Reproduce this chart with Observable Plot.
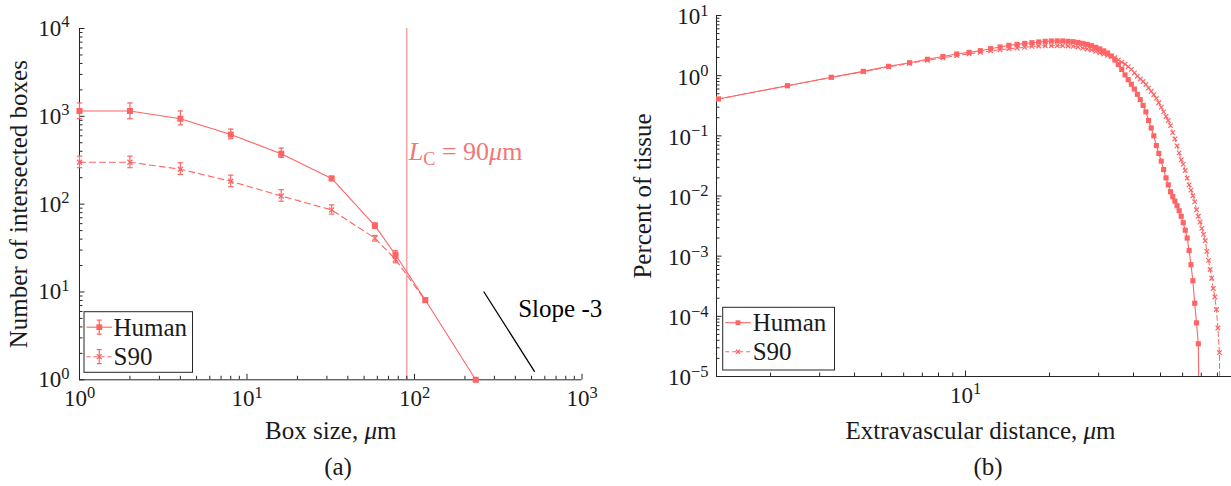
<!DOCTYPE html>
<html>
<head>
<meta charset="utf-8">
<script src="https://cdn.jsdelivr.net/npm/d3@7"></script>
<script src="https://cdn.jsdelivr.net/npm/@observablehq/plot@0.6"></script>
<style>
html, body { margin: 0; padding: 0; background: #fff; overflow: hidden; width: 1231px; height: 486px; }
#wrap { position: relative; width: 1231px; height: 486px; overflow: hidden; font-family: "Liberation Serif", "Times New Roman", serif; color: #1a1a1a; }
#wrap svg { position: absolute; top: 0; }
#wrap svg text { font-family: "Liberation Serif", "Times New Roman", serif; }
.cap { position: absolute; font-size: 25px; transform: translate(-50%, -50%); white-space: nowrap; }
</style>
</head>
<body>
<div id="wrap"></div>
<script>
// ---------------- DATA: panel (a) box counting ----------------
const seriesNames = ["Human", "S90"];
const boxSize = [1, 2, 4, 8, 16, 32, 58, 77, 116, 232];
const humanBoxes = [1150, 1150, 940, 620, 375, 196, 57, 26.5, 8.1, 1];
const humanBoxesLow = [940, 940, 800, 555, 340, 186, 53, 24, 7.8, 1];
const humanBoxesHigh = [1420, 1420, 1150, 715, 435, 208, 61, 29.5, 8.4, 1];
const s90BoxSize = [1, 2, 4, 8, 16, 32, 58, 77, 116];
const s90Boxes = [300, 300, 250, 182, 124, 86, 41, 23.5, 8];
const s90BoxesLow = [260, 260, 218, 158, 108, 77, 38, 21.5, 7.7];
const s90BoxesHigh = [352, 352, 296, 214, 146, 98, 44, 26, 8.3];
const critLength = 90;
const critLabel = "L_C = 90μm";
const critLabelY = 400;
const slopeX = [260, 520];
const slopeY = [10, 1.25];
const slopeLabel = "Slope -3";
const slopeLabelX = 416;
const slopeLabelY = 6.4;
const boxTicks = [1, 10, 100, 1000];
const boxTickLabels = ["10^0", "10^1", "10^2", "10^3"];
const countTicks = [1, 10, 100, 1000, 10000];
const countTickLabels = ["10^0", "10^1", "10^2", "10^3", "10^4"];
const xLabelA = "Box size, μm";
const yLabelA = "Number of intersected boxes";

// ---------------- DATA: panel (b) extravascular distance ----------------
const distance = [1.3, 2.3, 3.3, 4.3, 5.3, 6.3, 7.3, 8.3, 9.3, 10.3,
  11.3, 12.3, 13.3, 14.3, 15.3, 16.3, 17.3, 18.3, 19.3, 20.3,
  21.3, 22.3, 23.3, 24.3, 25.3, 26.3, 27.3, 28.3, 29.3, 30.3,
  31.3, 32.3, 33.3, 34.3, 35.3, 36.3, 37.3, 38.3, 39.3, 40.3,
  41.3, 42.3, 43.3, 44.3, 45.3, 46.3, 47.3, 48.3, 49.3, 50.3,
  51.3, 52.3, 53.3, 54.3, 55.3, 56.3, 57.3, 58.3, 59.3, 60.3,
  61.3, 62.3, 63.3, 64.3, 65.3, 66.3, 67.3, 68.3, 69.3, 70.3,
  71.3, 72.3, 73.3, 74.3, 75.3, 76.3, 77.3, 78.3, 79.3, 80.3,
  81.3, 82.3];
const humanPct = [0.41, 0.68, 0.94, 1.18, 1.43, 1.64, 1.87, 2.08, 2.29, 2.44,
  2.60, 2.81, 3.00, 3.19, 3.31, 3.44, 3.53, 3.63, 3.72, 3.77,
  3.78, 3.77, 3.72, 3.67, 3.57, 3.44, 3.31, 3.15, 2.95, 2.78,
  2.58, 2.38, 2.12, 1.82, 1.53, 1.27, 1.03, 0.86, 0.72, 0.60,
  0.49, 0.40, 0.32, 0.25, 0.18, 0.135, 0.10, 0.069, 0.051, 0.038,
  0.0275, 0.020, 0.0153, 0.0118, 0.0098, 0.0082, 0.0069, 0.0057, 0.0046, 0.0036,
  0.0027, 0.0020, 0.00124, 0.00072, 0.00039, 0.000165, 0.000078, 0.000035, 0.0000001];
const s90Pct = [0.41, 0.68, 0.93, 1.16, 1.40, 1.60, 1.80, 1.98, 2.15, 2.30,
  2.44, 2.58, 2.70, 2.80, 2.88, 2.95, 3.07, 3.11, 3.15, 3.15,
  3.15, 3.15, 3.11, 3.07, 3.00, 2.88, 2.78, 2.67, 2.53, 2.40,
  2.29, 2.18, 2.10, 2.00, 1.83, 1.68, 1.55, 1.41, 1.27, 1.11,
  0.98, 0.88, 0.80, 0.715, 0.625, 0.55, 0.483, 0.42, 0.355, 0.30,
  0.25, 0.21, 0.18, 0.148, 0.113, 0.089, 0.068, 0.052, 0.040, 0.0335,
  0.0265, 0.0198, 0.0153, 0.0125, 0.0101, 0.0080, 0.0059, 0.0046, 0.0037, 0.0029,
  0.0023, 0.0018, 0.0012, 0.00085, 0.0006, 0.00043, 0.00029, 0.00021, 0.00013, 0.000064,
  0.000025, 0.00000001];
const distTicks = [10];
const distTickLabels = ["10^1"];
const pctTicks = [1e-5, 1e-4, 1e-3, 1e-2, 1e-1, 1, 10];
const pctTickLabels = ["10^−5", "10^−4", "10^−3", "10^−2", "10^−1", "10^0", "10^1"];
const xLabelB = "Extravascular distance, μm";
const yLabelB = "Percent of tissue";
const distDomain = [1.28, 100];
const pctDomain = [1e-5, 10];

// ---------------- STYLE ----------------
const H = 486;
const seriesColor = "#ff6464";
const lcColor = "#f27878";
const axisColor = "#262626";
const textColor = "#1a1a1a";
const fontFamily = "'Liberation Serif', 'Times New Roman', serif";
const tickFont = 23, labelFont = 25;

function logTicks(lo, hi) {
  const major = [], minor = [];
  for (let e = Math.floor(Math.log10(lo)) - 1; e <= Math.ceil(Math.log10(hi)); e++) {
    for (let m = 1; m < 10; m++) {
      const v = +(m * Math.pow(10, e)).toPrecision(6);
      if (v < lo * 0.9999 || v > hi * 1.0001) continue;
      (m === 1 ? major : minor).push(v);
    }
  }
  return {major, minor};
}
const capSymbol = {draw(ctx, size) { const r = Math.sqrt(size / Math.PI); ctx.moveTo(-r, 0); ctx.lineTo(r, 0); }};

function richText(svg) {
  d3.select(svg).selectAll("text").each(function() {
    const t = this.textContent;
    const sel = d3.select(this);
    sel.style("font-family", fontFamily);
    let m = t.match(/^10\^(.+)$/);
    if (m) {
      this.textContent = "10";
      sel.append("tspan").attr("dy", -8.5).attr("font-size", 16.5).text(m[1]);
      return;
    }
    if (t === critLabel) {
      this.textContent = "";
      sel.append("tspan").attr("font-style", "italic").text("L");
      sel.append("tspan").attr("font-size", "0.7em").attr("dy", 5).text("C");
      sel.append("tspan").attr("dy", -5).text(" = 90");
      sel.append("tspan").attr("font-style", "italic").text("μ");
      sel.append("tspan").text("m");
      return;
    }
    if (t.includes("μ")) {
      const parts = t.split("μ");
      this.textContent = parts[0];
      sel.append("tspan").attr("font-style", "italic").text("μ");
      sel.append("tspan").text(parts[1]);
    }
  });
}

function drawLegend(svg, box, opts) {
  const g = d3.select(svg).append("g");
  g.append("rect").attr("x", box.x).attr("y", box.y).attr("width", box.w).attr("height", box.h)
    .attr("fill", "#fff").attr("stroke", axisColor).attr("stroke-width", 1);
  seriesNames.forEach((name, i) => {
    const cy = box.y + opts.first + i * opts.step;
    const x1 = box.x + opts.l1, x2 = box.x + opts.l2, mx = (x1 + x2) / 2;
    g.append("line").attr("x1", x1).attr("x2", x2).attr("y1", cy).attr("y2", cy)
      .attr("stroke", seriesColor).attr("stroke-width", 1.1)
      .attr("stroke-dasharray", i === 1 ? opts.dash : null);
    if (opts.err) {
      const e = opts.err;
      g.append("path").attr("d", `M${mx},${cy - e}V${cy + e}M${mx - 2.5},${cy - e}H${mx + 2.5}M${mx - 2.5},${cy + e}H${mx + 2.5}`)
        .attr("stroke", seriesColor).attr("stroke-width", 1.2).attr("fill", "none");
    }
    if (i === 0) {
      const s = opts.sq;
      g.append("rect").attr("x", mx - s / 2).attr("y", cy - s / 2).attr("width", s).attr("height", s).attr("fill", seriesColor);
    } else {
      const r = opts.xr;
      g.append("path").attr("d", `M${mx - r},${cy - r}L${mx + r},${cy + r}M${mx - r},${cy + r}L${mx + r},${cy - r}`)
        .attr("stroke", seriesColor).attr("stroke-width", 1.3);
    }
    g.append("text").attr("x", box.x + opts.tx).attr("y", cy).attr("dy", "0.34em")
      .attr("text-anchor", "start")
      .attr("font-size", labelFont).attr("fill", textColor).style("font-family", fontFamily).text(name);
  });
}

const wrap = document.getElementById("wrap");

// ---------------- PANEL (a) ----------------
{
  const f = {left: 79, right: 581.5, top: 28, bottom: 379.3};
  const width = 615;
  const fw = f.right - f.left, fh = f.bottom - f.top;
  const tx = logTicks(1, 1000), ty = logTicks(1, 10000);
  const human = boxSize.map((x, i) => ({x, y: humanBoxes[i], lo: humanBoxesLow[i], hi: humanBoxesHigh[i]}));
  const s90 = s90BoxSize.map((x, i) => ({x, y: s90Boxes[i], lo: s90BoxesLow[i], hi: s90BoxesHigh[i]}));
  const slope = slopeX.map((x, i) => ({x, y: slopeY[i]}));
  const svg = Plot.plot({
    width, height: H,
    marginLeft: f.left, marginRight: width - f.right, marginTop: f.top, marginBottom: H - f.bottom,
    x: {type: "log", domain: [1, 1000], axis: null},
    y: {type: "log", domain: [1, 10000], axis: null},
    style: {background: "transparent", fontFamily, fontSize: tickFont + "px", color: textColor, overflow: "visible"},
    marks: [
      Plot.ruleX([critLength], {x: d => d, stroke: lcColor, strokeWidth: 1}),
      Plot.tickX(tx.major, {x: d => d, insetTop: fh - 5.5, stroke: axisColor}),
      Plot.tickX(tx.minor, {x: d => d, insetTop: fh - 3.5, stroke: axisColor}),
      Plot.tickY(ty.major, {y: d => d, insetRight: fw - 5.5, stroke: axisColor}),
      Plot.tickY(ty.minor, {y: d => d, insetRight: fw - 3.5, stroke: axisColor}),
      Plot.ruleX([1], {x: d => d, stroke: axisColor, strokeWidth: 1}),
      Plot.ruleY([1], {y: d => d, stroke: axisColor, strokeWidth: 1}),
      Plot.line(s90, {x: "x", y: "y", stroke: seriesColor, strokeWidth: 1.1, strokeDasharray: "6,4"}),
      Plot.line(human, {x: "x", y: "y", stroke: seriesColor, strokeWidth: 1.1}),
      Plot.ruleX(human, {x: "x", y1: "lo", y2: "hi", stroke: seriesColor, strokeWidth: 1.2}),
      Plot.dot(human, {x: "x", y: "lo", symbol: capSymbol, r: 2.7, stroke: seriesColor, fill: "none", strokeWidth: 1.2}),
      Plot.dot(human, {x: "x", y: "hi", symbol: capSymbol, r: 2.7, stroke: seriesColor, fill: "none", strokeWidth: 1.2}),
      Plot.ruleX(s90, {x: "x", y1: "lo", y2: "hi", stroke: seriesColor, strokeWidth: 1.2}),
      Plot.dot(s90, {x: "x", y: "lo", symbol: capSymbol, r: 2.7, stroke: seriesColor, fill: "none", strokeWidth: 1.2}),
      Plot.dot(s90, {x: "x", y: "hi", symbol: capSymbol, r: 2.7, stroke: seriesColor, fill: "none", strokeWidth: 1.2}),
      Plot.dot(human, {x: "x", y: "y", symbol: "square", r: 3.4, fill: seriesColor, stroke: "none"}),
      Plot.dot(s90, {x: "x", y: "y", symbol: "times", r: 2.4, stroke: seriesColor, strokeWidth: 1.3}),
      Plot.line(slope, {x: "x", y: "y", stroke: "#000", strokeWidth: 1.3}),
      Plot.text([slopeLabel], {x: () => slopeLabelX, y: () => slopeLabelY, text: d => d, textAnchor: "start", lineAnchor: "middle", fontSize: labelFont, fill: "#000"}),
      Plot.text([critLabel], {x: () => critLength, y: () => critLabelY, text: d => d, textAnchor: "start", lineAnchor: "middle", dx: 2, fontSize: labelFont + 1, fill: lcColor}),
      Plot.text(boxTicks, {x: d => d, text: (d, i) => boxTickLabels[i], frameAnchor: "bottom", textAnchor: "middle", lineAnchor: "middle", dy: 19, fontSize: tickFont, fill: textColor}),
      Plot.text(countTicks, {y: d => d, text: (d, i) => countTickLabels[i], frameAnchor: "left", textAnchor: "end", lineAnchor: "middle", dx: -10, dy: 0, fontSize: tickFont, fill: textColor}),
      Plot.text([xLabelA], {text: d => d, frameAnchor: "bottom", textAnchor: "middle", lineAnchor: "middle", dy: 51, fontSize: labelFont, fill: textColor}),
      Plot.text([yLabelA], {text: d => d, frameAnchor: "left", textAnchor: "middle", lineAnchor: "middle", dx: -61, rotate: -90, fontSize: labelFont, fill: textColor})
    ]
  });
  svg.style.left = "0px";
  richText(svg);
  drawLegend(svg, {x: 84, y: 311.7, w: 108.5, h: 60.6}, {first: 15.5, step: 29.5, l1: 2.5, l2: 28, tx: 29.5, dash: "4,3", err: 7, sq: 5.8, xr: 2.4});
  wrap.appendChild(svg);
  const cap = document.createElement("div");
  cap.className = "cap"; cap.style.left = "338px"; cap.style.top = "467px"; cap.textContent = "(a)";
  wrap.appendChild(cap);
}

// ---------------- PANEL (b) ----------------
{
  const offset = 620;
  const f = {left: 716, right: 1244, top: 15, bottom: 376};
  const width = f.right - offset;
  const fw = f.right - f.left, fh = f.bottom - f.top;
  const tx = logTicks(distDomain[0], distDomain[1]), ty = logTicks(pctDomain[0], pctDomain[1]);
  const human = humanPct.map((v, i) => ({x: distance[i], y: v}));
  const s90 = s90Pct.map((v, i) => ({x: distance[i], y: v}));
  const svg = Plot.plot({
    width, height: H,
    marginLeft: f.left - offset, marginRight: 0, marginTop: f.top, marginBottom: H - f.bottom,
    x: {type: "log", domain: distDomain, axis: null},
    y: {type: "log", domain: pctDomain, axis: null},
    style: {background: "transparent", fontFamily, fontSize: tickFont + "px", color: textColor, overflow: "visible"},
    marks: [
      Plot.tickX(tx.major, {x: d => d, insetTop: fh - 5.5, stroke: axisColor}),
      Plot.tickX(tx.minor, {x: d => d, insetTop: fh - 3.5, stroke: axisColor}),
      Plot.tickY(ty.major, {y: d => d, insetRight: fw - 5.5, stroke: axisColor}),
      Plot.tickY(ty.minor, {y: d => d, insetRight: fw - 3.5, stroke: axisColor}),
      Plot.ruleX([distDomain[0]], {x: d => d, stroke: axisColor, strokeWidth: 1}),
      Plot.ruleY([pctDomain[0]], {y: d => d, stroke: axisColor, strokeWidth: 1}),
      Plot.line(s90, {x: "x", y: "y", stroke: seriesColor, strokeWidth: 1, strokeDasharray: "5,3", clip: true}),
      Plot.line(human, {x: "x", y: "y", stroke: seriesColor, strokeWidth: 1.1, clip: true}),
      Plot.dot(s90, {x: "x", y: "y", symbol: "times", r: 2.2, stroke: seriesColor, strokeWidth: 1.2, clip: true}),
      Plot.dot(human, {x: "x", y: "y", symbol: "square", r: 2.9, fill: seriesColor, stroke: "none", clip: true}),
      Plot.text(distTicks, {x: d => d, text: (d, i) => distTickLabels[i], frameAnchor: "bottom", textAnchor: "middle", lineAnchor: "middle", dy: 19, fontSize: tickFont, fill: textColor}),
      Plot.text(pctTicks, {y: d => d, text: (d, i) => pctTickLabels[i], frameAnchor: "left", textAnchor: "end", lineAnchor: "middle", dx: -8, dy: 1.5, fontSize: tickFont, fill: textColor}),
      Plot.text([xLabelB], {text: d => d, frameAnchor: "bottom", textAnchor: "middle", lineAnchor: "middle", dy: 54, fontSize: labelFont, fill: textColor}),
      Plot.text([yLabelB], {text: d => d, frameAnchor: "left", textAnchor: "middle", lineAnchor: "middle", dx: -74, rotate: -90, fontSize: labelFont, fill: textColor})
    ]
  });
  svg.style.left = offset + "px";
  richText(svg);
  drawLegend(svg, {x: 722.7 - offset, y: 307.3, w: 111.8, h: 62.7}, {first: 15.4, step: 29, l1: 2.5, l2: 28, tx: 30, dash: "4,3", err: 0, sq: 4.8, xr: 2});
  wrap.appendChild(svg);
  const cap = document.createElement("div");
  cap.className = "cap"; cap.style.left = "988px"; cap.style.top = "467px"; cap.textContent = "(b)";
  wrap.appendChild(cap);
}
</script>
</body>
</html>
